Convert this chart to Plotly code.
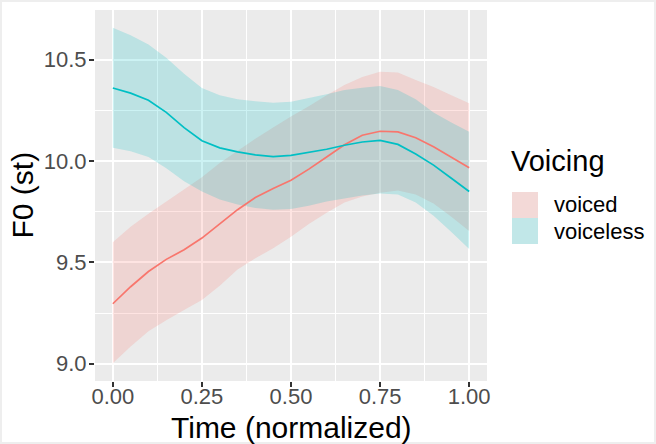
import plotly.graph_objects as go

# Normalised time points of the smoothed F0 contours
time = [0.00, 0.05, 0.10, 0.15, 0.20, 0.25, 0.30, 0.35, 0.40, 0.45, 0.50,
        0.55, 0.60, 0.65, 0.70, 0.75, 0.80, 0.85, 0.90, 0.95, 1.00]

# Voiced: fitted F0 (semitones) with confidence band
voiced_fit = [9.296, 9.380, 9.455, 9.515, 9.562, 9.620, 9.690, 9.760, 9.820, 9.865, 9.905,
              9.960, 10.020, 10.080, 10.127, 10.147, 10.144, 10.115, 10.070, 10.020, 9.967]
voiced_hi = [9.600, 9.676, 9.740, 9.800, 9.860, 9.920, 9.990, 10.050, 10.110, 10.165, 10.220,
             10.270, 10.325, 10.375, 10.415, 10.440, 10.437, 10.400, 10.365, 10.325, 10.285]
voiced_lo = [9.003, 9.085, 9.160, 9.215, 9.265, 9.315, 9.385, 9.465, 9.520, 9.570, 9.627,
             9.690, 9.745, 9.795, 9.825, 9.843, 9.855, 9.835, 9.790, 9.725, 9.655]

# Voiceless: fitted F0 (semitones) with confidence band
voiceless_fit = [10.360, 10.335, 10.300, 10.240, 10.165, 10.100, 10.065, 10.045, 10.030, 10.022, 10.028,
                 10.042, 10.058, 10.078, 10.094, 10.102, 10.082, 10.035, 9.980, 9.915, 9.850]
voiceless_hi = [10.657, 10.620, 10.575, 10.510, 10.430, 10.360, 10.325, 10.305, 10.295, 10.288, 10.293,
                10.310, 10.330, 10.350, 10.362, 10.370, 10.350, 10.305, 10.240, 10.190, 10.144]
voiceless_lo = [10.066, 10.048, 10.020, 9.965, 9.900, 9.850, 9.810, 9.785, 9.768, 9.760, 9.764,
                9.780, 9.800, 9.815, 9.830, 9.840, 9.835, 9.795, 9.730, 9.650, 9.566]

x_ticks = [0.0, 0.25, 0.5, 0.75, 1.0]
x_tick_labels = ["0.00", "0.25", "0.50", "0.75", "1.00"]
y_ticks = [9.0, 9.5, 10.0, 10.5]
y_tick_labels = ["9.0", "9.5", "10.0", "10.5"]

groups = ["voiced", "voiceless"]
line_colors = {"voiced": "#F8766D", "voiceless": "#00BFC4"}
band_colors = {"voiced": "rgba(248,118,109,0.2)", "voiceless": "rgba(0,191,196,0.2)"}
series = {
    "voiced": (voiced_fit, voiced_lo, voiced_hi),
    "voiceless": (voiceless_fit, voiceless_lo, voiceless_hi),
}

W, H = 656, 444
ML, MR, MT, MB = 95, 169, 10, 63
PW, PH = W - ML - MR, H - MT - MB


def px(xp):
    return (xp - ML) / PW


def py(yp):
    return (H - MB - yp) / PH


FONT = "Liberation Sans, Arial, sans-serif"

fig = go.Figure()

# Confidence ribbons
for g in groups:
    fit, lo, hi = series[g]
    fig.add_trace(go.Scatter(x=time, y=lo, mode="lines", line=dict(width=0),
                             showlegend=False, hoverinfo="skip"))
    fig.add_trace(go.Scatter(x=time, y=hi, mode="lines", line=dict(width=0),
                             fill="tonexty", fillcolor=band_colors[g],
                             showlegend=False, hoverinfo="skip"))

# Fitted contours
for g in groups:
    fit, lo, hi = series[g]
    fig.add_trace(go.Scatter(x=time, y=fit, mode="lines", name=g,
                             line=dict(color=line_colors[g], width=1.7),
                             showlegend=False))

axis_common = dict(
    showgrid=True, gridcolor="white", gridwidth=1.8, zeroline=False,
    ticks="outside", ticklen=5, tickwidth=1.5, tickcolor="#333333",
    tickfont=dict(family=FONT, size=22, color="#4D4D4D"),
    showline=False,
)

fig.update_xaxes(range=[-0.05, 1.05], tickvals=x_ticks, ticktext=x_tick_labels,
                 ticklabelstandoff=-9,
                 minor=dict(dtick=0.125, tick0=0.125, showgrid=True,
                            gridcolor="white", gridwidth=0.9, ticks=""),
                 **axis_common)
fig.update_yaxes(range=[8.915, 10.745], tickvals=y_ticks, ticktext=y_tick_labels,
                 ticklabelstandoff=-2,
                 minor=dict(dtick=0.25, tick0=9.25, showgrid=True,
                            gridcolor="white", gridwidth=0.9, ticks=""),
                 **axis_common)

annotations = [
    dict(text="Time (normalized)", x=0.5, y=py(428), xref="paper", yref="paper",
         xanchor="center", yanchor="middle", showarrow=False,
         font=dict(family=FONT, size=30, color="black")),
    dict(text="F0 (st)", x=px(22), y=0.5, xref="paper", yref="paper",
         xanchor="center", yanchor="middle", textangle=-90, showarrow=False,
         font=dict(family=FONT, size=30, color="black")),
    dict(text="Voicing", x=px(509), y=py(161), xref="paper", yref="paper",
         xanchor="left", yanchor="middle", showarrow=False,
         font=dict(family=FONT, size=29, color="black")),
]

shapes = []
key_top = 192
key_size = 26
for i, g in enumerate(groups):
    y0 = key_top + i * key_size
    for fill in ("#F2F2F2", band_colors[g]):
        shapes.append(dict(type="rect", xref="paper", yref="paper",
                           x0=px(512), x1=px(512 + key_size),
                           y0=py(y0 + key_size), y1=py(y0),
                           fillcolor=fill, line=dict(width=0), layer="above"))
    annotations.append(dict(text=g, x=px(552), y=py(y0 + key_size / 2),
                            xref="paper", yref="paper", xanchor="left",
                            yanchor="middle", showarrow=False,
                            font=dict(family=FONT, size=22, color="black")))

# Thin frame around the whole figure
shapes.append(dict(type="rect", xref="paper", yref="paper",
                   x0=px(0), x1=px(W), y0=py(H), y1=py(0),
                   line=dict(color="#EEEEEE", width=4), fillcolor="rgba(0,0,0,0)",
                   layer="above"))

fig.update_layout(
    width=W, height=H,
    margin=dict(l=ML, r=MR, t=MT, b=MB, pad=0),
    paper_bgcolor="white", plot_bgcolor="#EBEBEB",
    showlegend=False,
    annotations=annotations, shapes=shapes,
)

fig.write_html("out.html")
